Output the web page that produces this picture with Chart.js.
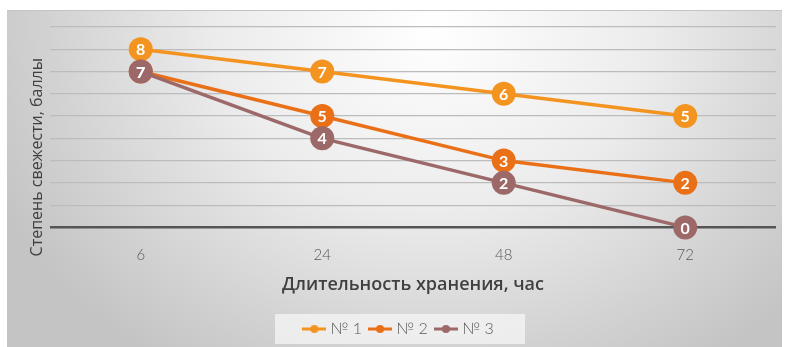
<!DOCTYPE html>
<html lang="ru">
<head>
<meta charset="utf-8">
<script src="https://cdn.jsdelivr.net/npm/chart.js@4.4.1/dist/chart.umd.min.js"></script>
<style>
    html, body { margin: 0; padding: 0; background: #fff; }
    #wrap { position: relative; width: 788px; height: 347px; }
    #panel {
        position: absolute; left: 7px; top: 10px; width: 775px; height: 337px;
        border-top: 1px solid #c4c4c4;
        background: radial-gradient(ellipse 62% 120% at 55% 5%, #ffffff 0%, #ececec 45%, #d2d2d2 80%, #c4c4c4 100%);
    }
    #chart { position: absolute; left: 0; top: 0; }
</style>
</head>
<body>
<div id="wrap">
    <div id="panel"></div>
    <canvas id="chart" width="788" height="347"></canvas>
</div>
<script>
// ====================================
// Степень свежести по длительности хранения
// ====================================

const hours = ['6', '24', '48', '72'];
const sample1 = [8, 7, 6, 5];
const sample2 = [7, 5, 3, 2];
const sample3 = [7, 4, 2, 0];
const seriesNames = ['№ 1', '№ 2', '№ 3'];
const seriesColors = ['#F49420', '#EA7018', '#9C6868'];
const yTitle = 'Степень свежести, баллы';
const xTitle = 'Длительность хранения, час';

const FONT = 'Lato, "Open Sans", sans-serif';
const TITLE_FONT = '"Open Sans", Lato, sans-serif';

// маленькая иконка "линия с точкой" для легенды
function legendIcon(color) {
    const c = document.createElement('canvas');
    c.width = 24; c.height = 10;
    const g = c.getContext('2d');
    g.strokeStyle = color;
    g.lineWidth = 3;
    g.beginPath();
    g.moveTo(0, 5); g.lineTo(24, 5);
    g.stroke();
    g.fillStyle = color;
    g.beginPath();
    g.arc(12, 5, 4, 0, Math.PI * 2);
    g.fill();
    return c;
}

// фон под легендой
const legendBg = {
    id: 'legendBg',
    beforeDraw(chart) {
        const l = chart.legend;
        if (!l) return;
        const ctx = chart.ctx;
        ctx.save();
        ctx.fillStyle = 'rgba(245,245,245,0.75)';
        const w = 250, h = 30;
        const x = (l.left + l.right) / 2 - w / 2;
        const y = (l.top + l.bottom) / 2 - h / 2;
        ctx.fillRect(x, y, w, h);
        ctx.restore();
    }
};

// подпись вертикальной оси (по центру вместе с подписями категорий)
const yAxisTitle = {
    id: 'yAxisTitle',
    afterDraw(chart) {
        const area = chart.chartArea;
        const ctx = chart.ctx;
        ctx.save();
        ctx.translate(37, (area.top + area.bottom) / 2 + 30);
        ctx.rotate(-Math.PI / 2);
        ctx.font = '16px ' + TITLE_FONT;
        ctx.fillStyle = '#404040';
        ctx.textAlign = 'center';
        ctx.textBaseline = 'middle';
        ctx.fillText(yTitle, 0, 0);
        ctx.restore();
    }
};

// подписи значений внутри маркеров
const pointLabels = {
    id: 'pointLabels',
    afterDatasetsDraw(chart) {
        const ctx = chart.ctx;
        ctx.save();
        ctx.font = 'bold 16px ' + FONT;
        ctx.fillStyle = '#fff';
        ctx.textAlign = 'center';
        ctx.textBaseline = 'middle';
        chart.data.datasets.forEach((ds, i) => {
            const meta = chart.getDatasetMeta(i);
            meta.data.forEach((pt, j) => {
                ctx.fillText(String(ds.data[j]), pt.x, pt.y + 1);
            });
        });
        ctx.restore();
    }
};

const datasets = [sample1, sample2, sample3].map((values, i) => ({
    label: seriesNames[i],
    data: values,
    borderColor: seriesColors[i],
    backgroundColor: seriesColors[i],
    pointBackgroundColor: seriesColors[i],
    pointBorderColor: seriesColors[i],
    pointBorderWidth: 0,
    pointRadius: 12,
    pointHoverRadius: 12,
    borderWidth: 3.5,
    tension: 0,
    clip: false,
    legendIcon: legendIcon(seriesColors[i])
}));
// третья серия поверх остальных
datasets.reverse();

new Chart(document.getElementById('chart'), {
    type: 'line',
    data: { labels: hours, datasets: datasets },
    options: {
        responsive: false,
        animation: false,
        devicePixelRatio: 1,
        layout: { padding: { left: 24, right: 12, top: 27, bottom: 0 } },
        plugins: {
            tooltip: { enabled: false },
            legend: {
                position: 'bottom',
                reverse: true,
                labels: {
                    usePointStyle: true,
                    boxWidth: 24,
                    boxHeight: 10,
                    padding: 10,
                    color: '#595959',
                    font: { family: FONT, size: 16, weight: '300' },
                    generateLabels(chart) {
                        return chart.data.datasets.map((ds, i) => ({
                            text: ds.label,
                            fontColor: '#595959',
                            pointStyle: ds.legendIcon,
                            strokeStyle: ds.borderColor,
                            fillStyle: ds.borderColor,
                            lineWidth: 0,
                            datasetIndex: i
                        }));
                    }
                }
            }
        },
        scales: {
            x: {
                offset: true,
                grid: { display: false, drawTicks: false },
                border: { display: false },
                ticks: {
                    color: '#595959',
                    padding: 19,
                    font: { family: FONT, size: 15, weight: '300' }
                },
                title: {
                    display: true,
                    text: xTitle,
                    color: '#404040',
                    font: { family: TITLE_FONT, size: 18, weight: '600' },
                    padding: { top: -9, bottom: 15 }
                }
            },
            y: {
                min: 0,
                max: 9,
                // место под вертикальную подпись, которую рисует плагин
                afterFit(scale) { scale.width = 26; },
                ticks: { display: false, stepSize: 1 },
                border: { display: false },
                grid: {
                    drawTicks: false,
                    color: ctx => ctx.tick.value === 0 ? '#555555' : '#bcbcbc',
                    lineWidth: ctx => ctx.tick.value === 0 ? 2.5 : 1.2
                }
            }
        }
    },
    plugins: [legendBg, yAxisTitle, pointLabels]
});
</script>
</body>
</html>
